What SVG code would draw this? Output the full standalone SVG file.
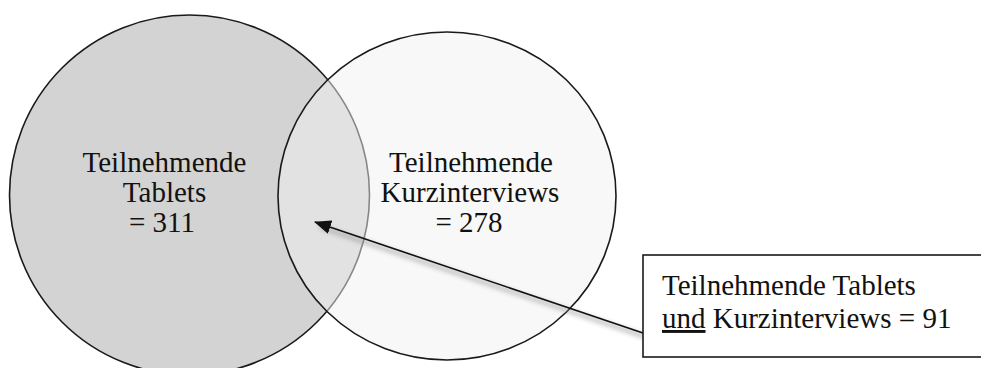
<svg xmlns="http://www.w3.org/2000/svg" width="981" height="368" viewBox="0 0 981 368">
  <style>
    .lbl { font-family: "Liberation Serif", "Times New Roman", serif; font-size: 29px; fill: #111; }
    .ctr { text-anchor: middle; }
    .ring { stroke: #1a1a1a; stroke-width: 1.6; }
  </style>
  <defs>
    <marker id="arrow" markerWidth="17" markerHeight="14" refX="16" refY="7" orient="auto" markerUnits="userSpaceOnUse">
      <path d="M0,0 L17,7 L0,14 Z" fill="#111"/>
    </marker>
    <filter id="shadow" x="-10%" y="-50%" width="120%" height="200%">
      <feGaussianBlur stdDeviation="2.5"/>
    </filter>
  </defs>
  <rect width="981" height="368" fill="#ffffff"/>

  <g id="tablets">
    <circle class="ring" cx="189.5" cy="195" r="180" fill="#d3d3d3"/>
    <text class="lbl ctr" x="164.5" y="172">Teilnehmende</text>
    <text class="lbl ctr" x="164.5" y="202">Tablets</text>
    <text class="lbl ctr" x="162" y="232">= 311</text>
  </g>

  <g id="kurzinterviews">
    <ellipse class="ring" cx="447" cy="196" rx="169" ry="164" fill="#f1f1f1" fill-opacity="0.51"/>
    <text class="lbl ctr" x="471" y="172">Teilnehmende</text>
    <text class="lbl ctr" x="470" y="202">Kurzinterviews</text>
    <text class="lbl ctr" x="469" y="232">= 278</text>
  </g>

  <g id="connectors">
    <line x1="646" y1="337" x2="320" y2="227" stroke="#888" stroke-width="3" filter="url(#shadow)" opacity="0.7"/>
    <line x1="643" y1="333" x2="315" y2="222" stroke="#111" stroke-width="1.6" marker-end="url(#arrow)"/>
  </g>

  <g id="both">
    <rect x="643" y="255" width="360" height="102" fill="#ffffff" stroke="#1a1a1a" stroke-width="1.6"/>
    <text class="lbl" x="662" y="295">Teilnehmende Tablets</text>
    <text class="lbl" x="662" y="328"><tspan text-decoration="underline">und</tspan> Kurzinterviews = 91</text>
  </g>
</svg>
